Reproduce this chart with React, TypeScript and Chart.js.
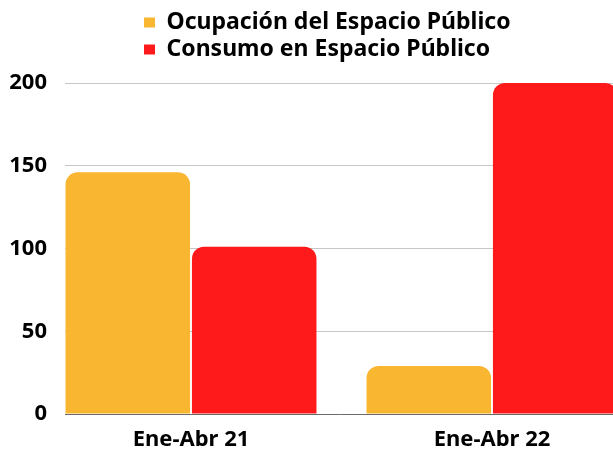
import { useEffect, useRef } from "react";
import { Chart, registerables } from "chart.js";

Chart.register(...registerables);

const categories = ["Ene-Abr 21", "Ene-Abr 22"];
const seriesNames = ["Ocupación del Espacio Público", "Consumo en Espacio Público"];
const ocupacion = [146, 29];
const consumo = [101, 200];
const yTicks = [0, 50, 100, 150, 200];
const seriesColors = ["#F8B631", "#FE1A1A"];

export default function App() {
  const ref = useRef<HTMLCanvasElement>(null);

  useEffect(() => {
    if (!ref.current) return;
    const family = "'Noto Sans', sans-serif";
    const axisFont = { family, weight: "bold" as const, size: 22 };
    const legendFont = { family, weight: "bold" as const, size: 23 };

    const legendLayout = {
      id: "legendLayout",
      afterInit(chart: any) {
        const lg = chart.legend;
        if (!lg) return;
        const fit = lg.fit;
        lg.fit = function () {
          fit.call(this);
          this.height += 12;
        };
      },
      beforeDraw(chart: any) {
        const lg = chart.legend;
        if (lg && lg.lineWidths) {
          const pad = lg.options.labels.padding;
          const w = lg.left + pad + lg.right - 2 * 144;
          lg.lineWidths = lg.lineWidths.map(() => w);
        }
      },
    };

    const series = [ocupacion, consumo];
    const chart = new Chart(ref.current, {
      type: "bar",
      data: {
        datasets: series.map((vals, s) => ({
          label: seriesNames[s],
          data: vals.map((v, i) => ({ x: i, y: v })),
          backgroundColor: seriesColors[s],
          borderWidth: 0,
          borderRadius: 12,
          categoryPercentage: 0.84,
          barPercentage: 0.985,
        })),
      },
      options: {
        animation: false,
        responsive: true,
        maintainAspectRatio: false,
        events: [],
        layout: { padding: { top: 7, left: 8, right: 0, bottom: 2 } },
        plugins: {
          legend: {
            position: "top",
            labels: { boxWidth: 11, boxHeight: 10, padding: 4, font: legendFont, color: "#000" },
          },
          tooltip: { enabled: false },
        },
        scales: {
          x: {
            type: "linear",
            offset: false,
            min: -0.4186,
            max: 1.402,
            grid: { display: false, drawTicks: false },
            border: { display: true, color: "#6b6b6b", width: 1 },
            afterBuildTicks: (scale: any) => {
              scale.ticks = categories.map((_, i) => ({ value: i }));
            },
            afterFit: (scale: any) => {
              scale.height = 36;
            },
            ticks: {
              autoSkip: false,
              maxRotation: 0,
              padding: 12.5,
              font: axisFont,
              color: "#000",
              callback: (_v: any, i: number) => categories[i],
            },
          },
          y: {
            min: yTicks[0],
            max: yTicks[yTicks.length - 1],
            afterFit: (scale: any) => {
              scale.width = 57;
            },
            afterBuildTicks: (scale: any) => {
              scale.ticks = yTicks.map((v) => ({ value: v }));
            },
            grid: { color: "#c6c6c6", drawTicks: false },
            border: { display: false },
            ticks: { padding: 18, font: axisFont, color: "#000" },
          },
        },
      },
      plugins: [legendLayout],
    } as any);

    return () => chart.destroy();
  }, []);

  return (
    <div style={{ position: "fixed", left: 0, top: 0, width: 613, height: 452 }}>
      <canvas ref={ref} />
    </div>
  );
}
